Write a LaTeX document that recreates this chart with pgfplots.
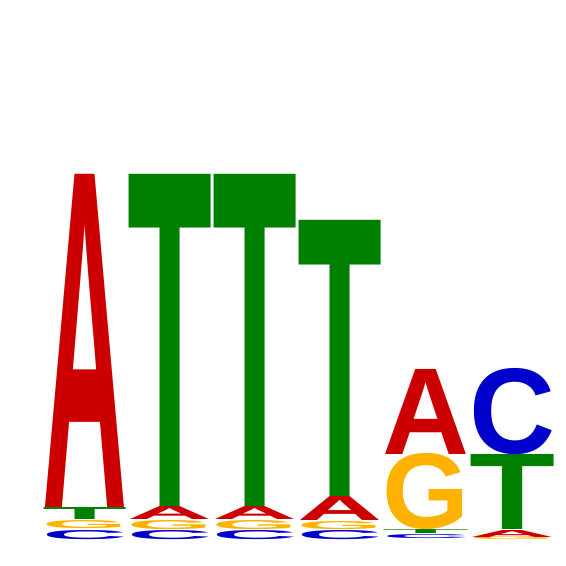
\documentclass[border=0pt]{standalone}
\usepackage{pgfplots}
\pgfplotsset{compat=1.18}
\usepackage{graphicx}
\usepackage{fontspec}
\setmainfont{Liberation Sans}
\definecolor{cA}{HTML}{CC0000}
\definecolor{cC}{HTML}{0000CC}
\definecolor{cG}{HTML}{FFB300}
\definecolor{cT}{HTML}{008000}
\newcommand{\Lt}[6]{\node[anchor=south west,inner sep=0pt,outer sep=0pt,text=#6] at (axis cs:#1,#2) {\resizebox{#3pt}{#4pt}{\bfseries #5}};}
\begin{document}
\begin{tikzpicture}
\begin{axis}[x=1pt,y=1pt,xmin=0,xmax=566,ymin=0,ymax=566,hide axis,clip=false,scale only axis]
\addplot[draw=none] coordinates {(0,0) (566,566)};
% col 1
\Lt{42}{26}{85}{9}{C}{cC}
\Lt{42}{37}{85}{8}{G}{cG}
\Lt{42}{46}{85}{12}{T}{cT}
\Lt{42}{58}{85}{333}{A}{cA}
% col 2
\Lt{127}{26}{85}{9}{C}{cC}
\Lt{127}{36}{85}{9}{G}{cG}
\Lt{127}{46}{85}{13}{A}{cA}
\Lt{127}{59}{85}{332}{T}{cT}
% col 3
\Lt{212}{26}{85}{9}{C}{cC}
\Lt{212}{36}{85}{9}{G}{cG}
\Lt{212}{46}{85}{13}{A}{cA}
\Lt{212}{59}{85}{332}{T}{cT}
% col 4
\Lt{297}{26}{85}{9}{C}{cC}
\Lt{297}{36}{85}{8}{G}{cG}
\Lt{297}{45}{85}{24}{A}{cA}
\Lt{297}{69}{85}{276}{T}{cT}
% col 5
\Lt{382}{27}{87}{4}{C}{cC}
\Lt{382}{32}{87}{4}{T}{cT}
\Lt{382}{36}{87}{75}{G}{cG}
\Lt{382}{111}{87}{85}{A}{cA}
% col 6
\Lt{469}{26}{86}{3}{G}{cG}
\Lt{469}{29}{86}{7}{A}{cA}
\Lt{469}{36}{86}{75}{T}{cT}
\Lt{469}{111}{86}{85}{C}{cC}
\end{axis}
\end{tikzpicture}
\end{document}
